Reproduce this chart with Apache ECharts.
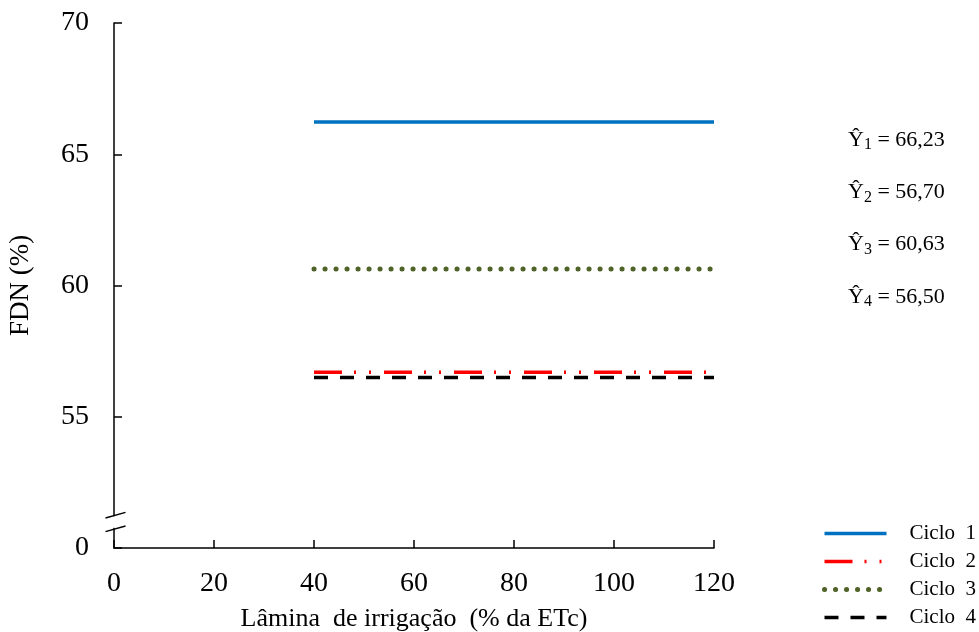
<!DOCTYPE html>
<html>
<head>
<meta charset="utf-8">
<script src="https://cdn.jsdelivr.net/npm/echarts@6/dist/echarts.min.js"></script>
<style>
  html, body { margin: 0; padding: 0; background: #fff; }
  #chart { width: 979px; height: 632px; }
</style>
</head>
<body>
<div id="chart"></div>
<script>
// Irrigation depth (% of ETc) covered by the fitted equations
const lamina = [40, 120];
// Fitted NDF (%) per cycle, constant across the irrigation range
const ciclo1 = [66.23, 66.23];
const ciclo2 = [56.70, 56.70];
const ciclo3 = [60.63, 60.63];
const ciclo4 = [56.50, 56.50];
const cycleNames = ['Ciclo  1', 'Ciclo  2', 'Ciclo  3', 'Ciclo  4'];
const equationLabels = ['66,23', '56,70', '60,63', '56,50'];
const xTicks = [0, 20, 40, 60, 80, 100, 120];
const yTicks = [50, 55, 60, 65, 70];   // 50 is the broken-axis origin, shown as "0"

const FONT = '"Liberation Serif", "Times New Roman", serif';

const chart = echarts.init(document.getElementById('chart'), null, { renderer: 'canvas' });

function pairs(xs, ys) { return xs.map((x, i) => [x, ys[i]]); }

const seriesStyles = [
  { color: '#0070C0', width: 3.5, type: 'solid', cap: 'butt' },
  { color: '#FF0000', width: 3.5, type: [28, 12, 2, 13, 2, 13], cap: 'butt' },
  { color: '#4F6228', width: 5, type: [0.1, 10.9], cap: 'round' },
  { color: '#000000', width: 3.5, type: [14, 12], cap: 'butt' }
];
const seriesData = [ciclo1, ciclo2, ciclo3, ciclo4];

const option = {
  animation: false,
  backgroundColor: '#ffffff',
  grid: { left: 114, top: 23, width: 600, height: 525, containLabel: false, outerBoundsMode: 'none' },
  xAxis: {
    type: 'value',
    min: xTicks[0], max: xTicks[xTicks.length - 1], interval: 20,
    name: 'Lâmina  de irrigação  (% da ETc)',
    nameLocation: 'middle', nameGap: 58,
    nameTextStyle: { fontFamily: FONT, fontSize: 26, color: '#000' },
    axisLine: { show: true, onZero: false, lineStyle: { color: '#000', width: 1.5 } },
    axisTick: { show: true, inside: true, length: 8, lineStyle: { color: '#000', width: 1.5 } },
    axisLabel: { fontFamily: FONT, fontSize: 28, color: '#000', margin: 22 },
    splitLine: { show: false }
  },
  yAxis: {
    type: 'value',
    min: yTicks[0], max: yTicks[yTicks.length - 1], interval: 5,
    name: 'FDN (%)',
    nameLocation: 'middle', nameGap: 80,
    nameTextStyle: { fontFamily: FONT, fontSize: 27, color: '#000' },
    axisLine: { show: true, lineStyle: { color: '#000', width: 1.5 } },
    axisTick: { show: true, inside: true, length: 8, lineStyle: { color: '#000', width: 1.5 } },
    axisLabel: {
      fontFamily: FONT, fontSize: 28, color: '#000', margin: 25,
      formatter: v => (v === yTicks[0] ? '0' : String(v))
    },
    splitLine: { show: false }
  },
  legend: {
    orient: 'vertical',
    left: 822, top: 523,
    padding: 0,
    itemWidth: 62, itemHeight: 20, itemGap: 7,
    itemStyle: { opacity: 0 },
    lineStyle: { width: 'inherit', type: 'inherit', cap: 'inherit' },
    textStyle: { fontFamily: FONT, fontSize: 21, color: '#000', lineHeight: 20, padding: [0, 0, 0, 18] },
    data: cycleNames
  },
  series: cycleNames.map((name, i) => ({
    name: name,
    type: 'line',
    symbol: 'none',
    z: i === 3 ? 2 : 3,
    data: pairs(lamina, seriesData[i]),
    lineStyle: {
      color: seriesStyles[i].color,
      width: seriesStyles[i].width,
      type: seriesStyles[i].type,
      cap: seriesStyles[i].cap
    },
    itemStyle: { color: seriesStyles[i].color }
  }))
};

chart.setOption(option);

// Fitted-equation annotations and the axis break marks
const eqTop = 127, eqStep = 52.3, eqLeft = 848;
const graphics = equationLabels.map((val, i) => ({
  type: 'text',
  left: eqLeft,
  top: eqTop + i * eqStep,
  style: {
    text: '{y|Ŷ}{s|' + (i + 1) + '}{y| = ' + val + '}',
    rich: {
      y: { fontFamily: FONT, fontSize: 22, fill: '#000', lineHeight: 24 },
      s: { fontFamily: FONT, fontSize: 16, fill: '#000', padding: [10, 0, 0, 0], lineHeight: 24 }
    }
  }
}));

const axisX = chart.convertToPixel({ gridIndex: 0 }, [0, 50])[0];
const yUpper = chart.convertToPixel({ gridIndex: 0 }, [0, 51.25])[1];
const yLower = chart.convertToPixel({ gridIndex: 0 }, [0, 50.73])[1];
graphics.push({
  type: 'rect',
  shape: { x: axisX - 3, y: yUpper + 1, width: 6, height: yLower - yUpper - 2 },
  style: { fill: '#fff' },
  z: 100
});
[yUpper, yLower].forEach(yc => {
  graphics.push({
    type: 'line',
    shape: { x1: axisX - 8.5, y1: yc + 2.8, x2: axisX + 11.5, y2: yc - 2.8 },
    style: { stroke: '#000', lineWidth: 1.5 },
    z: 101
  });
});

chart.setOption({ graphic: graphics });
</script>
</body>
</html>
